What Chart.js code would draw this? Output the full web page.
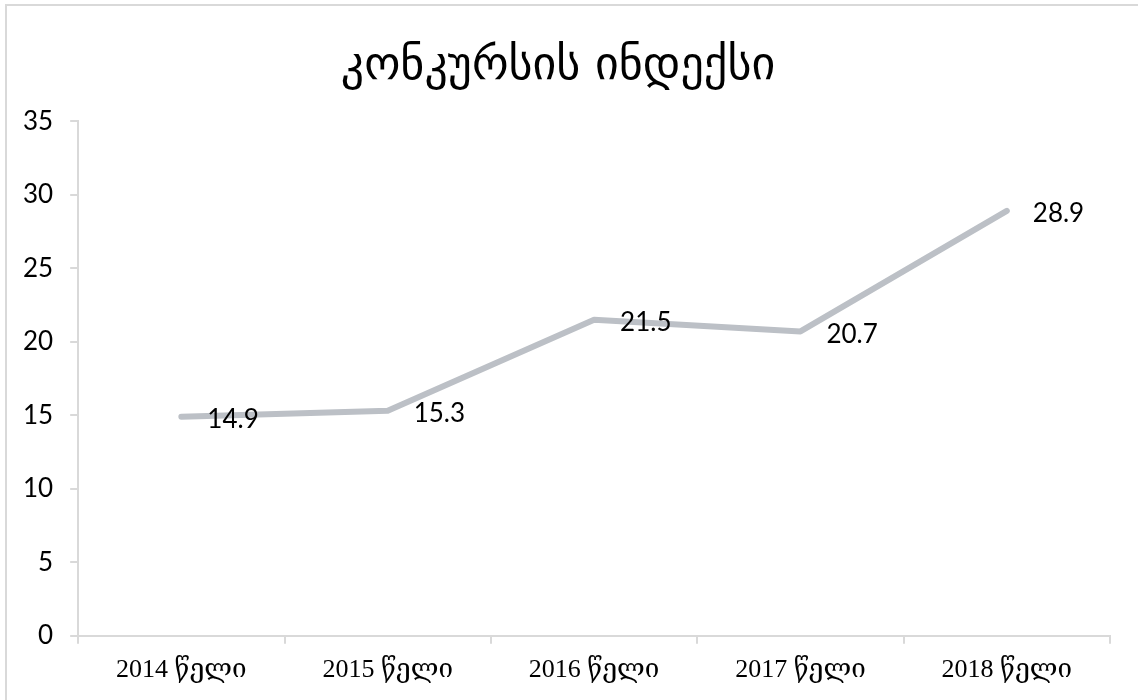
<!DOCTYPE html>
<html>
<head>
<meta charset="utf-8">
<script src="https://cdn.jsdelivr.net/npm/chart.js@4/dist/chart.umd.min.js"></script>
<style>
  body { margin: 0; background: #ffffff; overflow: hidden; }
  #frame { position: absolute; left: 5px; top: 4px; width: 1140px; height: 700px; border: 2px solid #d9d9d9; box-sizing: border-box; }
  #wrap { position: absolute; left: 0; top: 0; width: 1138px; height: 700px; }
</style>
</head>
<body>
<div id="frame"></div>
<div id="wrap"><canvas id="chart"></canvas></div>
<script>
var years = ['2014 წელი', '2015 წელი', '2016 წელი', '2017 წელი', '2018 წელი'];
var index_values = [14.9, 15.3, 21.5, 20.7, 28.9];
var y_ticks = [0, 5, 10, 15, 20, 25, 30, 35];

var axis_color = '#d9d9d9';
var text_color = '#000000';
var line_color = '#bcc0c6';
var num_font = 'Lato, "DejaVu Sans", sans-serif';

// labels to the right of every point
var valueLabels = {
    id: 'valueLabels',
    afterDatasetsDraw: function (chart) {
        var c = chart.ctx;
        var meta = chart.getDatasetMeta(0);
        c.save();
        c.font = '26px ' + num_font;
        c.fillStyle = text_color;
        c.textAlign = 'left';
        c.textBaseline = 'middle';
        meta.data.forEach(function (pt, i) {
            c.fillText(String(index_values[i]), pt.x + 26, pt.y + 3);
        });
        c.restore();
    }
};

var cfg = {
    type: 'line',
    data: {
        labels: years,
        datasets: [{
            data: index_values,
            borderColor: line_color,
            borderWidth: 6,
            borderCapStyle: 'round',
            borderJoinStyle: 'round',
            pointRadius: 0,
            tension: 0,
            fill: false
        }]
    },
    options: {
        responsive: true,
        maintainAspectRatio: false,
        animation: false,
        layout: {
            padding: { left: 6, right: 28, top: 39, bottom: 3 }
        },
        scales: {
            x: {
                offset: true,
                grid: {
                    display: true,
                    drawOnChartArea: false,
                    offset: true,
                    color: axis_color,
                    tickLength: 8,
                    lineWidth: 2
                },
                border: { color: axis_color, width: 2 },
                ticks: {
                    color: text_color,
                    padding: 11,
                    font: { family: '"Liberation Serif", "DejaVu Serif", serif', size: 26 }
                }
            },
            y: {
                min: 0,
                max: 35,
                afterBuildTicks: function (axis) {
                    axis.ticks = y_ticks.map(function (v) { return { value: v }; });
                },
                grid: {
                    display: true,
                    drawOnChartArea: false,
                    color: axis_color,
                    tickLength: 8,
                    lineWidth: 2
                },
                border: { color: axis_color, width: 2 },
                ticks: {
                    color: text_color,
                    padding: 17,
                    font: { family: num_font, size: 26 }
                }
            }
        },
        plugins: {
            title: {
                display: true,
                text: 'კონკურსის ინდექსი',
                color: text_color,
                font: { family: '"DejaVu Sans", sans-serif', size: 46, weight: 'normal' },
                padding: { top: 0, bottom: 27 }
            },
            legend: { display: false },
            tooltip: { enabled: false }
        }
    },
    plugins: [valueLabels]
};

var chart = new Chart(document.getElementById('chart'), cfg);
</script>
</body>
</html>
